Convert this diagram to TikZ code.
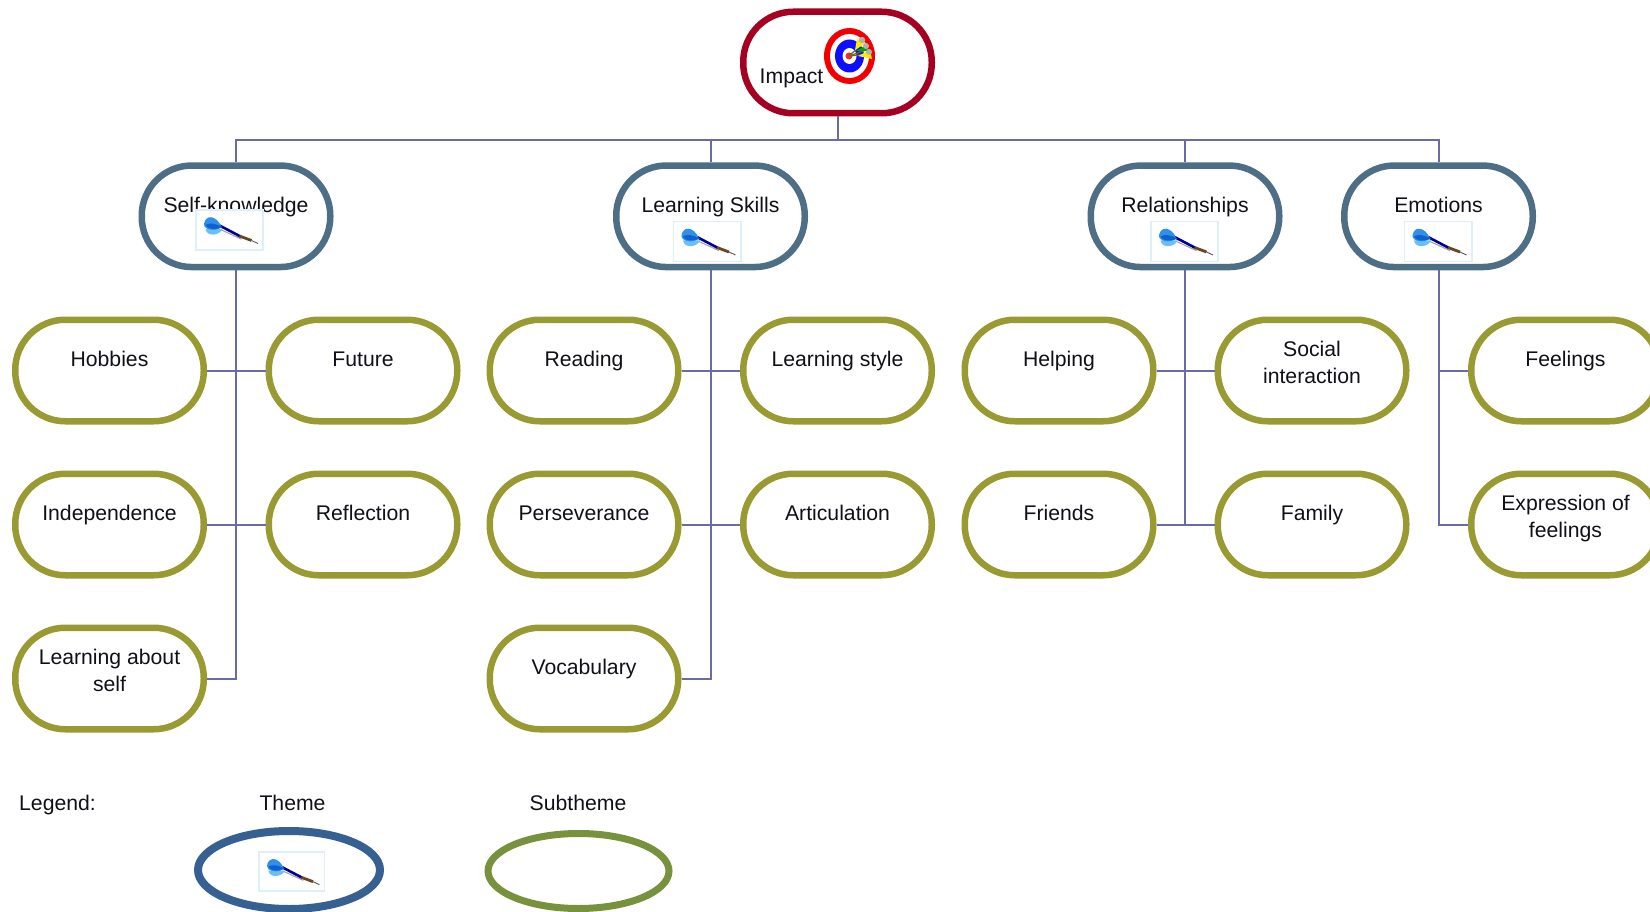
\documentclass[tikz,border=0pt]{standalone}
\usepackage{fontspec}
\setmainfont{Liberation Sans}
\usetikzlibrary{shapes.geometric}
\definecolor{impactc}{HTML}{A50021}
\definecolor{themec}{HTML}{4E6E85}
\definecolor{subc}{HTML}{9A9A33}
\definecolor{linkc}{HTML}{6A6AA6}
\definecolor{legthemec}{HTML}{376092}
\definecolor{legsubc}{HTML}{76923C}
\definecolor{dartbox}{HTML}{DDF0F8}
\definecolor{inkc}{HTML}{101018}
\definecolor{flightlight}{HTML}{6CC0F0}
\definecolor{flightmid}{HTML}{2E90E8}
\definecolor{flightdark}{HTML}{1060D0}
\newcommand\st{\vrule height15.3pt depth4.5pt width0pt\relax}
\tikzset{
  pill/.style={draw,rectangle,fill=white,line width=6.5pt,rounded corners=50pt,minimum width=188.5pt,minimum height=101.5pt,inner sep=0pt},
  impactpill/.style={pill,draw=impactc},
  themepill/.style={pill,draw=themec},
  subpill/.style={pill,draw=subc},
  lbl/.style={align=center,text=inkc,font=\fontsize{21.2}{26.3}\selectfont,inner sep=0pt},
  one/.style={lbl,yshift=9.2pt},
  two/.style={lbl,yshift=6pt},
  legtext/.style={lbl,anchor=center},
  link/.style={draw=linkc,line width=2pt},
  dart/.pic={
    \draw[draw=dartbox,line width=1.6pt,fill=white] (-33.7,-20) rectangle (33.7,20);
    \draw[draw=gray!75,line width=1pt] (-8,0) -- (12,9.2);
    \draw[draw=blue!60!black,line width=2.6pt] (-10,-4.5) -- (11,6.5);
    \draw[draw=black!45!brown,line width=2.8pt] (10,6) -- (22,10.5);
    \draw[draw=gray!70!black,line width=.9pt] (22,10.5) -- (28.5,13.5);
    \fill[flightlight] (-7,-1) .. controls (-10,6) and (-23,7) .. (-24,-1) -- cycle;
    \fill[flightmid] (-8,-3) .. controls (-13,-15) and (-24,-16) .. (-25.5,-6) .. controls (-26,0) and (-14,2) .. cycle;
    \fill[flightdark] (-7,-3) .. controls (-13,-6) and (-20,-8) .. (-24,-5) .. controls (-22,0) and (-13,0) .. cycle;
  }
}
\begin{document}
\begin{tikzpicture}[x=1pt,y=-1pt]
\useasboundingbox (0,0) rectangle (1650,912);
% root
\node[impactpill,label={[lbl,xshift=-46pt,yshift=-15.5pt]center:\st Impact}] (impact) at (837.5,62.5) {};
% themes
\node[themepill,label={[one]center:\st Self-knowledge}] (selfk) at (236,216.3) {};
\node[themepill,label={[one]center:\st Learning Skills}] (learn) at (710.5,216.3) {};
\node[themepill,label={[one]center:\st Relationships}] (relat) at (1185,216.3) {};
\node[themepill,label={[one]center:\st Emotions}] (emot) at (1438.5,216.3) {};
% subthemes
\node[subpill,label={[one]center:\st Hobbies}] (hobbies) at (109.5,370.5) {};
\node[subpill,label={[one]center:\st Future}] (future) at (363,370.5) {};
\node[subpill,label={[one]center:\st Independence}] (indep) at (109.5,524.5) {};
\node[subpill,label={[one]center:\st Reflection}] (reflect) at (363,524.5) {};
\node[subpill,label={[two]center:{\st Learning about\\\st self}}] (about) at (109.5,678.5) {};
\node[subpill,label={[one]center:\st Reading}] (reading) at (584,370.5) {};
\node[subpill,label={[one]center:\st Learning style}] (lstyle) at (837.5,370.5) {};
\node[subpill,label={[one]center:\st Perseverance}] (persev) at (584,524.5) {};
\node[subpill,label={[one]center:\st Articulation}] (artic) at (837.5,524.5) {};
\node[subpill,label={[one]center:\st Vocabulary}] (vocab) at (584,678.5) {};
\node[subpill,label={[one]center:\st Helping}] (helping) at (1059,370.5) {};
\node[subpill,label={[two]center:{\st Social\\\st interaction}}] (social) at (1312,370.5) {};
\node[subpill,label={[one]center:\st Friends}] (friends) at (1059,524.5) {};
\node[subpill,label={[one]center:\st Family}] (family) at (1312,524.5) {};
\node[subpill,label={[one]center:\st Feelings}] (feel) at (1565.5,370.5) {};
\node[subpill,label={[two]center:{\st Expression of\\\st feelings}}] (expr) at (1565.5,524.5) {};
% connectors
\coordinate (bus) at (837.5,140);
\draw[link] (impact.south) -- (bus);
\draw[link] (bus) -| (selfk.north);
\draw[link] (bus) -| (learn.north);
\draw[link] (bus) -| (relat.north);
\draw[link] (bus) -| (emot.north);
\foreach \t/\s/\a in {selfk/hobbies/east,selfk/future/west,selfk/indep/east,selfk/reflect/west,selfk/about/east,
  learn/reading/east,learn/lstyle/west,learn/persev/east,learn/artic/west,learn/vocab/east,
  relat/helping/east,relat/social/west,relat/friends/east,relat/family/west,
  emot/feel/west,emot/expr/west}
  \draw[link] (\t.south) |- (\s.\a);
% dart icons
\pic at (229.5,230) {dart};
\pic at (707,241.5) {dart};
\pic at (1184.5,241.5) {dart};
\pic at (1438,241.5) {dart};
% target icon
\fill[red!95!black] (849.5,56) ellipse (25.5 and 28);
\fill[white] (849.5,56) ellipse (19.5 and 22);
\fill[blue!95] (849.5,56) ellipse (14.5 and 16.5);
\fill[white] (849.5,56) ellipse (7 and 8);
\fill[red!85] (849,56) circle (3.5);
\draw[draw=olive!70!black,line width=1.2pt] (849,56) -- (862,44);
\draw[draw=olive!70!black,line width=1.2pt] (849,56) -- (866,50);
\draw[draw=olive!70!black,line width=1.2pt] (849,56) -- (869,54);
\fill[yellow!95!orange] (855,50) -- (857,39) -- (866,43) -- cycle;
\fill[yellow!95!orange] (858,56) -- (870,50) -- (872,59) -- cycle;
\fill[green!65!black] (856,51) -- (866,45) -- (869,51) -- cycle;
\fill[gray!60] (862,40) circle (3.2);
\fill[gray!60] (866,46) circle (3);
\fill[gray!60] (869,52) circle (3);
% legend
\node[legtext,anchor=west] (legendlab) at (19,805) {\st Legend:};
\node[legtext] (themelab) at (292.5,804.6) {\st Theme};
\node[legtext] (sublab) at (578,804.6) {\st Subtheme};
\node[draw=legthemec,ellipse,line width=8pt,minimum width=182pt,minimum height=78pt,inner sep=0pt] (legtheme) at (289,870) {};
\node[draw=legsubc,ellipse,line width=7pt,minimum width=181pt,minimum height=75pt,inner sep=0pt] (legsub) at (578.5,871) {};
\pic[scale=.97] at (291.7,871.5) {dart};
\end{tikzpicture}
\end{document}
